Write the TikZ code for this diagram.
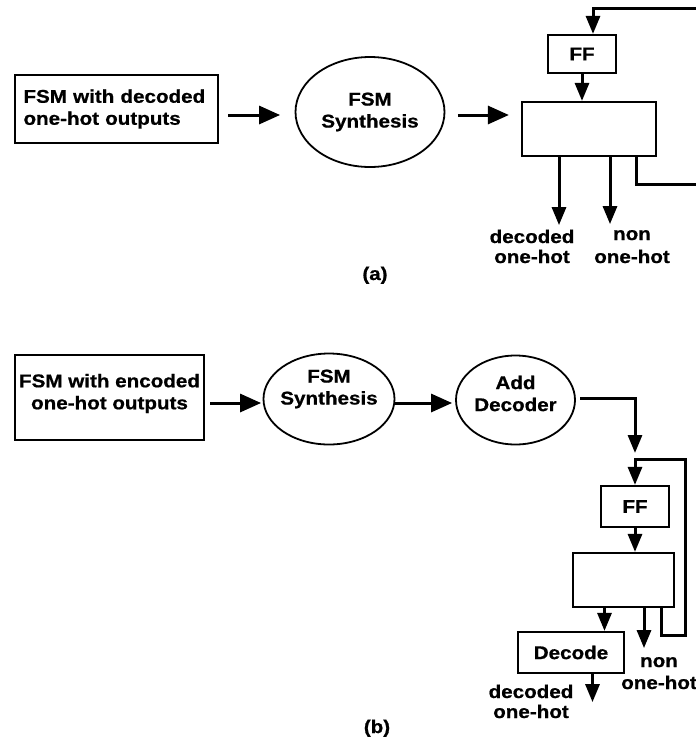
\documentclass[tikz,border=0pt]{standalone}
\usepackage{fontspec}
\setmainfont{Liberation Sans}[FakeStretch=1.12, FakeBold=0.8]
\usetikzlibrary{arrows.meta,shapes.geometric,positioning}

\tikzset{
  every node/.style={font=\fontsize{18.4pt}{22pt}\selectfont\bfseries},
  blk/.style={draw, line width=2.2pt, inner sep=0pt},
  oval/.style={draw, ellipse, line width=1.8pt, inner sep=0pt},
  lbl/.style={align=center, inner sep=0pt},
  arr/.style={line width=3pt, -{Triangle[length=18pt,width=14pt]}},
  harr/.style={line width=3pt, -{Triangle[length=21pt,width=18pt]}},
}

\begin{document}
\begin{tikzpicture}[x=1pt, y=-1pt]
  \useasboundingbox (0,0) rectangle (696,740);
  \clip (0,0) rectangle (696,740);

  % (a)
  \node[blk, minimum height=68pt, text width=186pt, inner xsep=8.5pt, align=left] (inA) at (116.5,109) {FSM with decoded\\one-hot outputs};
  \node[oval, minimum width=149pt, minimum height=110pt, label={[lbl]center:{FSM\\Synthesis}}] (synA) at (370,112) {};
  \node[blk, minimum width=68pt, minimum height=38pt] (ffA) at (582,54) {FF};
  \node[blk, minimum width=134pt, minimum height=54pt] (blkA) at (589,129) {};
  \coordinate (fbA1) at (706,8);
  \coordinate (fbA2) at (706,184);

  \draw[harr, shorten <=9pt, shorten >=14.5pt] ([yshift=-6pt]inA.east) -- ([yshift=-6pt]inA.east -| synA.west);
  \draw[harr, shorten <=12.5pt, shorten >=12pt] ([yshift=-3pt]synA.east) -- ([yshift=-3pt]synA.east -| blkA.west);
  \draw[arr] (ffA.south) -- (ffA.south |- blkA.north);
  \draw[arr] ([xshift=47pt]blkA.south) |- (fbA2) -- (fbA1) -| ([xshift=11pt]ffA.north);
  \draw[arr] ([xshift=-30pt]blkA.south) -- ++(0,68);
  \draw[arr] ([xshift=21pt]blkA.south) -- ++(0,67);

  \node[lbl, anchor=base] (outA1) at (532,263) {decoded\\[-2pt]one-hot};
  \node[lbl, anchor=base] (outA2) at (632,263) {non\\[1pt]one-hot};
  \node[anchor=base] (capA) at (375,280) {(a)};

  % (b)
  \node[blk, minimum width=189pt, minimum height=85pt, label={[lbl, yshift=4pt]center:{FSM with encoded\\one-hot outputs}}] (inB) at (109.5,397.5) {};
  \node[oval, minimum width=131pt, minimum height=91pt, label={[lbl, yshift=10pt]center:{FSM\\Synthesis}}] (synB) at (329,399) {};
  \node[oval, minimum width=119pt, minimum height=89pt, label={[lbl, yshift=6.5pt]center:{Add\\Decoder}}] (addB) at (515.5,400) {};
  \node[blk, minimum width=68pt, minimum height=41pt] (ffB) at (635,506.5) {FF};
  \node[blk, minimum width=101pt, minimum height=54pt] (blkB) at (623.5,580) {};
  \node[blk, minimum width=106pt, minimum height=41pt] (decB) at (571,652.5) {Decode};
  \coordinate (dnB) at (635,453);
  \coordinate (fbB1) at (685,459);
  \coordinate (fbB2) at (685,635);

  \draw[harr, shorten <=5pt, shorten >=1.5pt] ([yshift=-5.5pt]inB.east) -- ([yshift=-5.5pt]inB.east -| synB.west);
  \draw[harr, shorten >=3pt] ([yshift=-4pt]synB.east) -- ([yshift=-4pt]synB.east -| addB.west);
  \draw[arr, shorten <=4.5pt] ([yshift=2pt]addB.east) -| (dnB);
  \draw[arr] ([xshift=37.5pt]blkB.south) |- (fbB2) -- (fbB1) -| (ffB.north);
  \draw[arr] (ffB.south) -- (ffB.south |- blkB.north);
  \draw[arr] ([xshift=-19pt]blkB.south) -- ([xshift=-19pt]blkB.south |- decB.north);
  \draw[arr] ([xshift=20.5pt]blkB.south) -- ++(0,40);
  \draw[arr] ([xshift=21.5pt]decB.south) -- ++(0,28);

  \node[lbl, anchor=base] (outB1) at (531,718) {decoded\\[-2pt]one-hot};
  \node[lbl, anchor=base] (outB2) at (659,689) {non\\one-hot};
  \node[anchor=base] (capB) at (377,733) {(b)};
\end{tikzpicture}
\end{document}
